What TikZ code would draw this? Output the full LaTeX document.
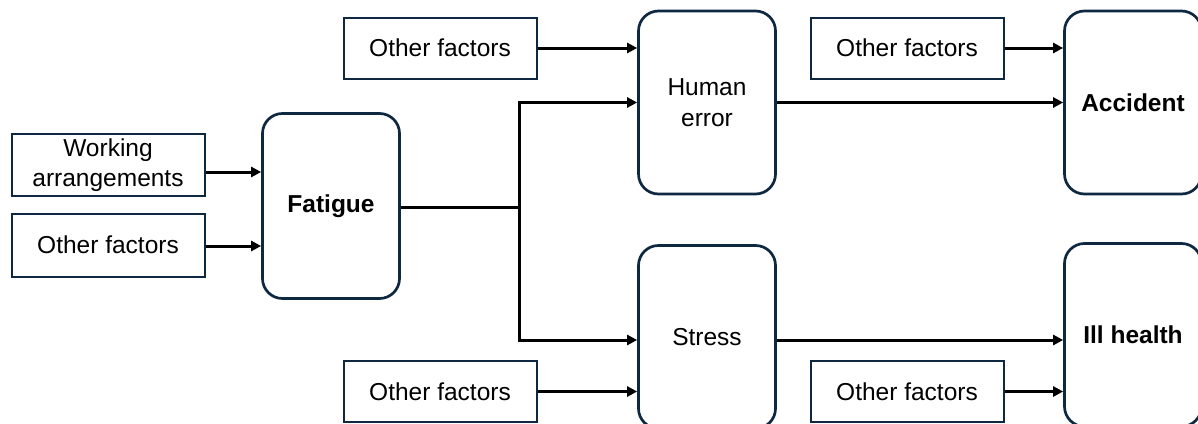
\documentclass[tikz,border=0pt]{standalone}
\usepackage{fontspec}
\setmainfont{Liberation Sans}
\usetikzlibrary{arrows.meta}
\definecolor{boxblue}{HTML}{0E2841}

\begin{document}
\begin{tikzpicture}[x=1pt,y=-1pt,>={Triangle[length=10pt,width=10pt]},
    factor/.style={draw=boxblue, line width=2pt, minimum width=193pt, minimum height=61pt, align=center, font=\fontsize{24.5}{30}\selectfont, inner sep=0pt},
    stage/.style={draw=boxblue, line width=2.7pt, rounded corners=20pt, minimum width=137pt, minimum height=183pt, align=center, font=\fontsize{24.5}{31}\selectfont, inner sep=0pt},
    arr/.style={->, line width=3pt}]
        \clip (0,0) rectangle (1198,423);
        % Nodes
        \node[factor, minimum height=62pt] (work) at (108,165) {Working\\arrangements};
        \node[factor, minimum height=63pt] (otherL) at (108,245) {Other factors};
        \node[stage, minimum height=185pt, font=\fontsize{24.5}{27}\selectfont\bfseries] (fatigue) at (331,206) {Fatigue};
        \node[factor] (otherHE) at (440,48) {Other factors};
        \node[stage] (error) at (707,102.5) {Human\\error};
        \node[factor] (otherST) at (440,391.5) {Other factors};
        \node[stage] (stress) at (707,337) {Stress};
        \node[factor] (otherAC) at (907,48) {Other factors};
        \node[factor] (otherIH) at (907,391.5) {Other factors};
        \node[stage, font=\fontsize{24.5}{27}\selectfont\bfseries] (accident) at (1133,102.5) {Accident};
        \node[stage, font=\fontsize{24.5}{27}\selectfont\bfseries] (health) at (1133,335) {Ill health};
        \coordinate (split) at (519,207);
        % Arrows
        \draw[arr] ([yshift=-7pt]work.east) -- ([yshift=-7pt]work.east -| fatigue.west);
        \draw[arr] ([yshift=-1pt]otherL.east) -- ([yshift=-1pt]otherL.east -| fatigue.west);
        \draw[line width=3pt] (fatigue.east |- split) -- (split);
        \draw[arr] (split) |- (error.west);
        \draw[arr] (split) |- ([yshift=-3pt]stress.west);
        \draw[arr] (otherHE) -- (otherHE -| error.west);
        \draw[arr] (otherST) -- (otherST -| stress.west);
        \draw[arr] (error) -- (error -| accident.west);
        \draw[arr] (otherAC) -- (otherAC -| accident.west);
        \draw[arr] ([yshift=-3pt]stress.east) -- ([yshift=-3pt]stress.east -| health.west);
        \draw[arr] (otherIH) -- (otherIH -| health.west);

    \end{tikzpicture}
\end{document}
